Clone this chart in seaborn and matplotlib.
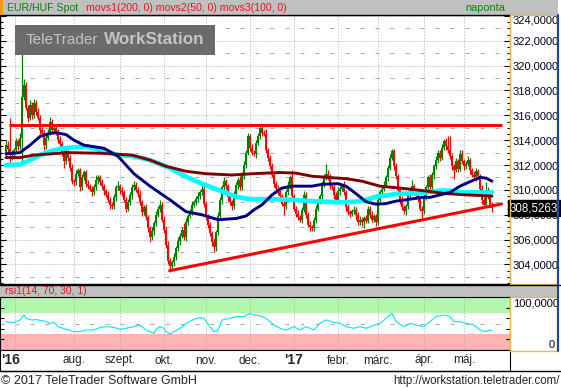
import numpy as np
import pandas as pd
import matplotlib
matplotlib.use('Agg')
import matplotlib.pyplot as plt
import seaborn as sns
from matplotlib.patches import Rectangle
from matplotlib.lines import Line2D
from matplotlib.ticker import MultipleLocator
from matplotlib.transforms import blended_transform_factory

# EUR/HUF daily candles, 14 Jun 2016 - 19 May 2017
start_date = '2016-06-14'
first_open = 313.0
closes = [
    313.6, 313.3, 312.8, 312.9, 313.2, 313.9, 313.5, 314.2, 317.5, 318.4,
    316.6, 315.8, 316.8, 316.0, 317.0, 316.3, 315.8, 314.8, 314.6, 313.6,
    314.2, 314.6, 315.5, 314.8, 315.0, 314.7, 314.0, 313.7, 313.0, 312.3,
    313.0, 312.6, 311.8, 310.7, 310.6, 311.3, 311.6, 310.2, 311.0, 311.4,
    310.5, 310.3, 310.1, 309.8, 310.2, 310.8, 311.0, 310.6, 310.3, 309.9,
    309.6, 309.2, 308.8, 308.7, 309.4, 310.2, 310.3, 309.9, 309.8, 309.2,
    308.5, 309.0, 309.6, 310.2, 310.4, 310.0, 309.7, 309.0, 308.2, 308.6,
    307.8, 306.9, 306.2, 306.7, 307.3, 308.0, 308.5, 308.8, 307.6, 306.8,
    305.6, 304.3, 303.9, 304.2, 304.6, 305.3, 305.9, 306.3, 306.8, 306.2,
    307.4, 307.9, 308.3, 308.8, 309.0, 309.3, 309.5, 309.8, 310.1, 308.9,
    307.8, 307.2, 306.5, 305.8, 305.4, 306.6, 307.9, 309.2, 310.2, 310.7,
    310.3, 309.4, 309.0, 308.7, 309.6, 310.4, 310.8, 310.2, 311.2, 312.0,
    313.0, 314.3, 313.4, 313.0, 312.9, 313.8, 314.3, 315.0, 314.6, 314.5,
    313.2, 312.6, 311.9, 311.2, 310.5, 310.1, 309.8, 309.5, 308.9, 308.7,
    309.8, 310.4, 311.0, 309.5, 308.5, 308.1, 307.8, 307.6, 308.4, 309.6,
    308.0, 307.2, 307.0, 306.9, 307.6, 308.5, 309.1, 309.5, 310.4, 311.0,
    311.3, 311.1, 310.3, 310.2, 309.6, 309.2, 309.9, 310.1, 310.3, 309.8,
    308.6, 308.2, 308.1, 308.3, 308.4, 308.0, 307.4, 307.6, 307.4, 307.7,
    307.5, 308.5, 308.0, 307.6, 307.9, 307.4, 309.2, 309.8, 310.1, 310.4,
    311.0, 311.8, 312.6, 313.1, 311.9, 311.1, 310.0, 309.2, 308.6, 308.3,
    308.7, 309.5, 309.9, 310.3, 309.9, 309.5, 309.3, 308.5, 308.3, 309.4,
    310.2, 311.0, 310.2, 311.2, 311.9, 312.4, 313.0, 312.6, 313.4, 313.9,
    313.5, 313.2, 312.7, 311.9, 311.6, 312.3, 311.7, 312.9, 312.3, 311.9,
    312.1, 312.4, 311.6, 311.2, 311.0, 311.5, 311.1, 310.1, 309.2, 308.8,
    309.9, 309.6, 308.8, 308.5263,
]
wick_hi = [
    0.4, 0.3, 2.5, 0.3, 0.2, 0.3, 0.2, 0.4, 4.4, 0.5,
    0.3, 0.2, 0.4, 0.3, 0.3, 0.2, 0.3, 0.2, 0.3, 0.2,
    0.2, 0.3, 0.4, 0.2, 0.3, 0.2, 0.2, 0.3, 0.2, 0.2,
    0.3, 0.2, 0.2, 0.3, 0.2, 0.3, 0.2, 0.2, 0.3, 0.2,
    0.2, 0.3, 0.2, 0.2, 0.3, 0.4, 0.2, 0.2, 0.3, 0.2,
    0.2, 0.3, 0.2, 0.2, 0.3, 0.2, 0.4, 0.2, 0.3, 0.2,
    0.2, 0.3, 0.2, 0.3, 0.3, 0.2, 0.2, 0.3, 0.2, 0.2,
    0.3, 0.2, 0.2, 0.3, 0.2, 0.3, 0.2, 0.4, 0.2, 0.3,
    0.2, 0.3, 0.2, 0.2, 0.3, 0.2, 0.3, 0.2, 0.2, 0.5,
    0.3, 0.2, 0.2, 0.3, 0.2, 0.2, 0.3, 0.2, 0.3, 0.2,
    0.2, 0.3, 0.2, 0.2, 0.3, 0.2, 0.3, 0.2, 0.2, 0.3,
    0.2, 0.2, 0.3, 0.2, 0.3, 0.2, 0.2, 0.3, 0.2, 0.3,
    0.2, 0.3, 0.2, 0.3, 0.2, 0.2, 0.3, 0.2, 0.3, 0.2,
    0.4, 0.2, 0.2, 0.3, 0.2, 0.2, 0.3, 0.2, 0.2, 0.3,
    0.2, 0.3, 0.2, 0.6, 0.2, 0.2, 0.3, 0.2, 0.2, 0.3,
    0.2, 0.2, 0.3, 0.2, 0.2, 0.3, 0.2, 0.2, 0.3, 0.3,
    0.8, 0.3, 0.2, 0.2, 0.3, 0.2, 0.3, 0.2, 0.2, 0.4,
    0.2, 0.3, 0.2, 0.2, 0.3, 0.2, 0.2, 0.3, 0.2, 0.2,
    0.3, 0.2, 0.2, 0.3, 0.2, 0.2, 0.3, 0.2, 0.2, 0.3,
    0.2, 0.2, 0.3, 0.2, 0.2, 0.3, 0.2, 0.2, 0.3, 0.2,
    0.2, 0.3, 0.2, 0.5, 0.2, 0.2, 0.3, 0.2, 0.2, 0.3,
    0.2, 0.2, 0.3, 0.2, 0.2, 0.3, 0.2, 0.2, 0.3, 0.2,
    0.3, 0.8, 1.1, 0.2, 0.2, 0.3, 0.2, 0.3, 0.3, 0.2,
    0.2, 0.3, 0.2, 0.2, 0.3, 0.3, 0.2, 0.2, 0.3, 0.2,
    0.7, 0.3, 0.2, 0.2,
]
wick_lo = [
    0.3, 0.3, 0.6, 0.4, 0.3, 0.2, 0.3, 0.2, 2.0, 0.3,
    0.2, 0.3, 0.2, 0.3, 0.2, 0.3, 0.2, 0.3, 0.2, 0.4,
    0.3, 0.2, 0.2, 0.3, 0.2, 0.3, 0.2, 0.2, 0.3, 0.5,
    0.2, 0.3, 0.3, 0.2, 0.3, 0.2, 0.2, 0.3, 0.2, 0.2,
    0.3, 0.2, 0.2, 0.3, 0.2, 0.2, 0.3, 0.2, 0.2, 0.3,
    0.2, 0.2, 0.3, 0.2, 0.2, 0.3, 0.2, 0.2, 0.3, 0.2,
    0.3, 0.2, 0.2, 0.3, 0.2, 0.2, 0.3, 0.2, 0.3, 0.2,
    0.2, 0.3, 0.4, 0.2, 0.3, 0.2, 0.2, 0.3, 0.2, 0.3,
    0.3, 0.3, 0.5, 0.2, 0.3, 0.2, 0.2, 0.3, 0.2, 0.2,
    0.3, 0.2, 0.2, 0.3, 0.2, 0.2, 0.3, 0.2, 0.2, 0.3,
    0.2, 0.3, 0.2, 0.3, 0.4, 0.3, 0.2, 0.2, 0.3, 0.2,
    0.2, 0.3, 0.2, 0.3, 0.2, 0.2, 0.3, 0.2, 0.2, 0.3,
    0.2, 0.2, 0.3, 0.2, 0.2, 0.3, 0.2, 0.2, 0.3, 0.2,
    0.2, 0.3, 0.2, 0.2, 0.3, 0.2, 0.2, 0.3, 0.2, 0.7,
    0.2, 0.2, 0.3, 0.2, 0.2, 0.3, 0.2, 0.2, 0.3, 0.2,
    0.3, 0.2, 0.3, 0.2, 0.2, 0.3, 0.2, 0.2, 0.3, 0.2,
    0.2, 0.3, 0.2, 0.2, 0.3, 0.2, 0.2, 0.3, 0.2, 0.2,
    0.3, 0.2, 0.3, 0.2, 0.2, 0.4, 0.2, 0.2, 0.3, 0.5,
    0.2, 0.2, 0.3, 0.2, 0.2, 0.3, 0.2, 0.2, 0.3, 0.2,
    0.2, 0.3, 0.2, 0.2, 0.3, 0.2, 0.2, 0.3, 0.2, 0.2,
    0.3, 0.2, 0.2, 0.3, 0.2, 0.2, 0.3, 0.2, 0.6, 0.2,
    0.2, 0.3, 0.2, 0.2, 0.3, 0.2, 0.2, 0.3, 0.2, 0.2,
    0.3, 0.2, 0.2, 0.3, 0.7, 0.2, 0.3, 0.2, 0.2, 0.3,
    0.2, 0.2, 0.3, 0.2, 0.2, 0.3, 0.2, 0.2, 0.3, 0.2,
    0.2, 0.3, 0.2, 0.3,
]

# moving averages (day index, value)
ma200_idx = [0, 7, 14, 27, 30, 47, 63, 72, 80, 90, 100, 113, 123, 137, 145, 153,
             170, 178, 187, 203, 220, 230, 243]
ma200_val = [312.6, 312.6, 312.8, 312.95, 313.0, 312.95, 312.8, 312.4, 311.9, 311.5,
             311.3, 311.2, 311.3, 311.4, 311.35, 311.1, 310.9, 310.7, 310.3, 310.05,
             309.7, 309.6, 309.5]
ma50_idx = [0, 7, 12, 17, 22, 25, 30, 34, 39, 49, 56, 64, 72, 82, 90, 98, 106, 115,
            120, 124, 128, 133, 138, 143, 148, 153, 158, 166, 170, 175, 180, 185, 190,
            195, 200, 208, 212, 217, 222, 227, 232, 237, 240, 243]
ma50_val = [312.9, 313.0, 313.6, 314.3, 314.55, 314.6, 314.45, 314.0, 313.6, 313.35,
            312.7, 311.3, 310.3, 309.2, 308.25, 308.0, 307.6, 307.7, 307.9, 308.4,
            308.8, 309.6, 310.15, 310.3, 310.3, 310.3, 310.45, 310.5, 310.3, 309.7,
            309.05, 308.85, 308.9, 309.1, 309.2, 309.4, 309.4, 309.6, 309.8, 310.3,
            310.66, 311.0, 310.95, 310.7]
ma100_idx = [0, 7, 12, 17, 22, 27, 32, 40, 49, 56, 64, 72, 82, 90, 98, 106, 115, 120,
             124, 133, 143, 153, 166, 175, 180, 185, 190, 195, 208, 217, 222, 228, 243]
ma100_val = [312.0, 312.05, 312.4, 312.8, 313.1, 313.3, 313.4, 313.5, 313.15, 312.8,
             312.7, 312.4, 311.75, 311.07, 310.5, 310.0, 309.45, 309.3, 309.25, 309.25,
             309.2, 309.1, 309.0, 309.05, 309.2, 309.45, 309.55, 309.67, 309.75, 309.94,
             309.94, 309.8, 309.8]

resistance = 315.22
trend_idx = [81.8, 247.8]
trend_val = [303.5, 308.87]

# rsi(14)
rsi_idx = [0, 4, 7, 9, 10, 13, 15, 19, 22, 24, 26, 30, 34, 37, 40, 44, 47, 50, 54, 57,
           60, 64, 67, 70, 74, 75, 77, 79, 80, 82, 84, 87, 90, 94, 97, 99, 102, 104, 106,
           108, 112, 115, 119, 122, 124, 127, 130, 134, 137, 140, 144, 147, 150, 154,
           157, 160, 164, 167, 170, 174, 177, 180, 184, 187, 190, 193, 195, 199, 202,
           205, 209, 212, 215, 219, 222, 224, 227, 230, 234, 237, 240, 242, 243]
rsi_val = [53.5, 51.9, 56.7, 66.2, 59.8, 56.7, 57.5, 54.6, 50.3, 52.0, 44.0, 39.0,
           34.4, 34.4, 37.6, 37.6, 42.5, 44.0, 42.5, 39.0, 40.8, 44.0, 47.1, 37.6, 31.3,
           39.0, 44.0, 40.8, 34.4, 30.0, 34.4, 40.8, 50.3, 58.0, 61.4, 59.8, 44.0, 34.4,
           37.6, 56.7, 59.8, 63.0, 63.0, 69.4, 66.2, 64.6, 59.8, 47.1, 40.8, 37.6, 44.0,
           37.6, 44.0, 37.6, 50.3, 56.7, 51.9, 50.3, 44.0, 40.8, 44.0, 40.8, 47.1, 50.3,
           59.8, 69.4, 53.5, 44.0, 50.3, 47.1, 44.0, 53.5, 63.0, 66.2, 63.0, 53.5, 53.5,
           50.3, 47.1, 37.6, 34.4, 37.6, 35.9]

price_ticks = list(range(304, 325, 2))
month_labels = ['aug.', 'szept.', 'okt.', 'nov.', 'dec.', "'17", 'febr.', 'márc.', 'ápr.', 'máj.']
year_label = "'16"

sns.set_style('white')
plt.rcParams['font.family'] = ['Liberation Sans', 'DejaVu Sans']

W, H = 561, 390
fig = plt.figure(figsize=(W / 100, H / 100), dpi=100)
fig.patch.set_facecolor('white')


def box(x0, y0, x1, y1):
    return [x0 / W, 1 - y1 / H, (x1 - x0) / W, (y1 - y0) / H]


def px(x, y):
    return x / W, 1 - y / H


df = pd.DataFrame({'date': pd.bdate_range(start_date, periods=len(closes)), 'close': closes})
df['open'] = df['close'].shift(1).fillna(first_open)
df['top'] = df[['open', 'close']].max(axis=1)
df['bot'] = df[['open', 'close']].min(axis=1)
df['high'] = df['top'] + wick_hi
df['low'] = df['bot'] - wick_lo
colors = np.where(df['close'] >= df['open'], '#008000', '#ff0000')

mon = df['date'].dt.month
starts = df.index[mon != mon.shift()].tolist()[2:]
grid_x = [4.5] + starts

grid_col = '#a8a8a8'
XL = (-3, 252)

# ---------- title bar ----------
tb = fig.add_axes(box(0, 0, 558, 15))
tb.set_facecolor('#c0c0c0')
tb.set_xticks([]); tb.set_yticks([])
for s in tb.spines.values():
    s.set_visible(False)
fig.add_artist(Rectangle(px(0, 15), 3 / W, 15 / H, transform=fig.transFigure,
                         fc='#f39c12', ec='none', zorder=5))
fig.text(*px(7, 8), 'EUR/HUF Spot', color='#108010', fontsize=7.6, va='center')
fig.text(*px(86, 8), 'movs1(200, 0) movs2(50, 0) movs3(100, 0)', color='#ee1020',
         fontsize=7.6, va='center')
fig.text(*px(505, 8), 'naponta', color='#108010', fontsize=7.8, va='center', ha='right')

# ---------- price panel ----------
ax = fig.add_axes(box(0, 15, 510, 284))
ax.set_xlim(*XL)
ax.set_ylim(302.43, 324.07)
for v in range(303, 324, 2):
    ax.axhline(v, color=grid_col, lw=0.72, dashes=(4, 11), zorder=0)
for v in price_ticks:
    ax.axhline(v, color=grid_col, lw=0.72, dashes=(1, 2), zorder=0)
for p in grid_x:
    ax.axvline(p, color=grid_col, lw=0.72, dashes=(1, 2), zorder=0)

ax.vlines(df.index, df['low'], df['high'], colors=colors, lw=0.9, zorder=2)
ax.bar(df.index, np.maximum(df['top'] - df['bot'], 0.06), bottom=df['bot'], width=1.0,
       color=colors, linewidth=0, zorder=3)

ax.hlines(resistance, 1.7, 247.8, color='#ff0000', lw=2.2, zorder=4)
sns.lineplot(x=trend_idx, y=trend_val, ax=ax, color='#ff0000', linewidth=2.2, zorder=4)
sns.lineplot(x=ma100_idx, y=ma100_val, ax=ax, color='#00ffff', linewidth=3.4, zorder=5)
sns.lineplot(x=ma200_idx, y=ma200_val, ax=ax, color='#800000', linewidth=2.1, zorder=5)
sns.lineplot(x=ma50_idx, y=ma50_val, ax=ax, color='#000080', linewidth=2.1, zorder=6)
ax.set_xlabel(''); ax.set_ylabel('')

ax.yaxis.tick_right()
ax.set_yticks(price_ticks)
ax.set_yticklabels([f'{v},0000' for v in price_ticks])
ax.yaxis.set_minor_locator(MultipleLocator(0.5))
ax.tick_params(axis='y', which='both', direction='in', left=True, right=True,
               labelleft=False, labelright=True, labelsize=8, labelcolor='#000020',
               color='black', pad=2)
ax.tick_params(axis='y', which='major', length=4, width=0.8)
ax.tick_params(axis='y', which='minor', length=2, width=0.8)
ax.tick_params(axis='x', bottom=False, labelbottom=False)
ax.get_yticklabels()[-1].set_va('top')
for k in ['left', 'top', 'bottom']:
    ax.spines[k].set_color('black'); ax.spines[k].set_linewidth(1)
ax.spines['right'].set_color('#e8b84a'); ax.spines['right'].set_linewidth(1)

trans = blended_transform_factory(ax.transAxes, ax.transData)
ax.text(1.0, df['close'].iloc[-1], f"{df['close'].iloc[-1]:.4f}".replace('.', ','),
        transform=trans, ha='left', va='center', color='white', fontsize=8.3,
        bbox=dict(boxstyle='square,pad=0.18', fc='black', ec='black'),
        clip_on=False, zorder=10)

# watermark
fig.add_artist(Rectangle(px(15, 55), 200 / W, 30 / H, transform=fig.transFigure,
                         fc='#6b6b6b', ec='none', zorder=8))
fig.text(*px(26, 40), 'TeleTrader', color='#c4c4c4', fontsize=11, va='center', zorder=9)
fig.text(*px(104, 40), 'WorkStation', color='#c4c4c4', fontsize=12.3, fontweight='bold',
         va='center', zorder=9)

# ---------- rsi bar ----------
rb = fig.add_axes(box(0, 285, 558, 297))
rb.set_facecolor('#c0c0c0')
rb.set_xticks([]); rb.set_yticks([])
for s in rb.spines.values():
    s.set_visible(False)
fig.text(*px(5, 291), 'rsi1(14, 70, 30, 1)', color='#ee1020', fontsize=7.5, va='center')

# ---------- rsi panel ----------
ar = fig.add_axes(box(0, 297, 510, 350))
ar.set_xlim(*XL)
ar.set_ylim(-0.5, 100.5)
ar.axhspan(70, 100, color='#b3f7ae', lw=0, zorder=0)
ar.axhspan(0, 30, color='#ffb3b3', lw=0, zorder=0)
ar.axhline(50, color=grid_col, lw=0.72, dashes=(4, 11), zorder=1)
for p in grid_x:
    ar.axvline(p, color=grid_col, lw=0.72, dashes=(1, 2), zorder=1)
sns.lineplot(x=rsi_idx, y=rsi_val, ax=ar, color='#00e5f5', linewidth=0.8, zorder=3)
ar.set_xlabel(''); ar.set_ylabel('')
ar.yaxis.tick_right()
ar.set_yticks(range(0, 101, 20))
ar.tick_params(axis='y', which='both', direction='in', left=True, right=True,
               labelleft=False, labelright=False, length=3, width=0.8, color='black')
ar.tick_params(axis='x', bottom=False, labelbottom=False)
for k in ['left', 'top', 'bottom']:
    ar.spines[k].set_color('black')
ar.spines['right'].set_color('#e8b84a')
fig.text(*px(513, 303), '100,0000', color='#000020', fontsize=8, va='center')
fig.text(*px(555, 345), '0', color='#000020', fontsize=8, va='center', ha='right')

# label boxes on the right
for y0, y1 in [(15, 284), (297, 351)]:
    fig.add_artist(Rectangle(px(510, y1), 47 / W, (y1 - y0) / H, transform=fig.transFigure,
                             fc='none', ec='#e8b84a', lw=1, zorder=6))
fig.add_artist(Line2D([557.5 / W, 557.5 / W], [1 - 15 / H, 1 - 351 / H],
                      transform=fig.transFigure, color='#1f3fbf', lw=1.5, zorder=7))
fig.add_artist(Line2D([0, 1], [1 - 284.5 / H, 1 - 284.5 / H],
                      transform=fig.transFigure, color='black', lw=1, zorder=7))

# ---------- date axis ----------
axx = fig.add_axes(box(0, 350, 510, 371))
axx.set_xlim(*XL)
axx.set_ylim(0, 1)
axx.set_xticks([]); axx.set_yticks([])
for s in axx.spines.values():
    s.set_color('black')
axx.text(-2.5, 0.5, year_label, fontsize=10, fontweight='bold', va='center', ha='left')
for pos, lab in zip(starts, month_labels):
    bold = lab.startswith("'")
    axx.text(pos, 0.5, lab, fontsize=10 if bold else 8.5,
             fontweight='bold' if bold else 'normal', va='center', ha='center')
fig.add_artist(Line2D([0, 1], [1 - 371 / H, 1 - 371 / H],
                      transform=fig.transFigure, color='black', lw=1, zorder=7))

# footer
fig.text(*px(1, 381), '© 2017 TeleTrader Software GmbH', fontsize=9, va='center')
fig.text(*px(560, 381), 'http://workstation.teletrader.com/', fontsize=8.3, va='center',
         ha='right')

fig.savefig('out.png', dpi=100)
